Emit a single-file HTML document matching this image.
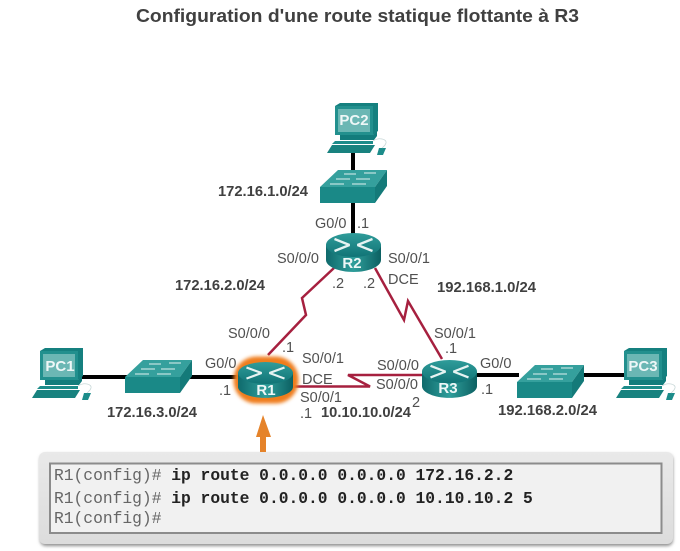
<!DOCTYPE html>
<html><head><meta charset="utf-8">
<style>
html,body{margin:0;padding:0;background:#fff}
svg{display:block}
text{font-family:"Liberation Sans",sans-serif;fill:#505050;font-size:14.5px}
.b{font-weight:bold;fill:#404040;font-size:14.5px}
.w{font-weight:bold;fill:#eef7f7;font-size:15px;text-anchor:middle}
.m{font-family:"Liberation Mono",monospace;font-size:16.3px;fill:#666}
.mb{font-weight:bold;fill:#222}
</style></head>
<body>
<svg width="680" height="551" viewBox="0 0 680 551" xmlns="http://www.w3.org/2000/svg">
<defs>
<linearGradient id="side" x1="0" x2="1" y1="0" y2="0">
<stop offset="0" stop-color="#0f6a6c"/><stop offset=".5" stop-color="#2f9e9b"/><stop offset="1" stop-color="#0c6062"/>
</linearGradient>
<linearGradient id="top" x1="0" x2="0" y1="0" y2="1">
<stop offset="0" stop-color="#2f9c9a"/><stop offset="1" stop-color="#117476"/>
</linearGradient>
<linearGradient id="cli" x1="0" x2="0" y1="0" y2="1">
<stop offset="0" stop-color="#e9e9e9"/><stop offset="1" stop-color="#dcdcdc"/>
</linearGradient>
<filter id="gl" x="-30%" y="-30%" width="160%" height="160%"><feGaussianBlur stdDeviation="1.800"/></filter>
<filter id="sh" x="-5%" y="-10%" width="110%" height="125%"><feGaussianBlur stdDeviation="1.500"/></filter>
<g id="router">
<path d="M-27.500 12V27C-27.500 33.500-15 39 0 39S27.500 33.500 27.500 27V12Z" fill="url(#side)"/>
<ellipse cx="0" cy="12" rx="27.500" ry="12" fill="url(#top)"/>
<path d="M-19 6L-4 12L-19 18M19 6L4 12L19 18" stroke="#e6f3f2" stroke-width="2.300" fill="none" stroke-linejoin="bevel"/>
</g>
<g id="switch">
<path d="M0 17L18 0H67L55 17Z" fill="#35a09d"/>
<path d="M55 17L67 0V16L55 33Z" fill="#147a79"/>
<rect x="0" y="17" width="55" height="16" fill="#1a8987"/>
<path d="M24 4H36M44 3H56M16 9H30M36 9H50M10 14H24M32 14H46" stroke="#dff1ef" stroke-width="1" fill="none"/>
</g>
<g id="pc">
<path d="M0 3L5 0H43V28L38 32H0Z" fill="#15807f"/>
<rect x="0" y="3" width="38" height="29" fill="#22908e"/>
<rect x="3" y="6" width="32" height="23" fill="#6bb7b4"/>
<path d="M5 32H38L42 28V33L39 37H5Z" fill="#127c7c"/>
<path d="M0 38H38V41H-3Z" fill="#1c8c8a"/>
<path d="M-3 42H40L35 50H-8Z" fill="#18827f"/>
<path d="M44 45L51 45 48 52H42Z" fill="#1c8c8a"/>
<path d="M38 38C44 34 52 36 51 40C50 43 48 44 47 45" stroke="#c8d8d8" stroke-width=".8" fill="none"/>
</g>
</defs>

<rect width="680" height="551" fill="#fff"/>
<text x="136" y="22" class="b" style="font-size:18px" textLength="443" lengthAdjust="spacingAndGlyphs">Configuration d'une route statique flottante à R3</text>

<!-- ethernet links -->
<path d="M353 150V172M353 203V235M80 377H127M190 377H240M475 375H519M582 375H625" stroke="#000" stroke-width="4" fill="none"/>
<!-- serial links -->
<g stroke="#a6203f" stroke-width="2.500" fill="none">
<path d="M268 355L306 315 302 298 334 268"/>
<path d="M375 268L404 320 408 301 442 359"/>
<path d="M293 386.500H370L348 375H424"/>
</g>

<!-- switches -->
<use href="#switch" x="320" y="170"/>
<use href="#switch" x="125" y="360"/>
<use href="#switch" x="517" y="365"/>

<!-- PCs -->
<use href="#pc" x="335" y="103"/>
<use href="#pc" x="40" y="348"/>
<use href="#pc" x="624" y="348"/>
<text x="354" y="125" class="w">PC2</text>
<text x="60" y="371" class="w">PC1</text>
<text x="643" y="371" class="w">PC3</text>

<!-- routers -->
<rect x="233.500" y="356.500" width="65" height="47" rx="23" fill="#ef7d1c" filter="url(#gl)"/>
<use href="#router" transform="translate(353.500,233)"/>
<use href="#router" transform="translate(265.500,362) scale(1,.92)"/>
<use href="#router" transform="translate(449.500,360) scale(1,.97)"/>
<text x="352" y="268" class="w">R2</text>
<text x="266" y="395" class="w">R1</text>
<text x="448" y="393" class="w">R3</text>

<!-- interface labels -->
<text x="315" y="228">G0/0</text><text x="357" y="228">.1</text>
<text x="277" y="263">S0/0/0</text><text x="388" y="263">S0/0/1</text>
<text x="388" y="284">DCE</text>
<text x="332" y="288">.2</text><text x="363" y="288">.2</text>
<text x="228" y="338">S0/0/0</text><text x="282" y="352">.1</text>
<text x="302" y="363">S0/0/1</text><text x="302" y="384">DCE</text>
<text x="300" y="402">S0/0/1</text><text x="300" y="418">.1</text>
<text x="205" y="368">G0/0</text><text x="219" y="395">.1</text>
<text x="377" y="370">S0/0/0</text><text x="376" y="389">S0/0/0</text>
<text x="412" y="407">2</text>
<text x="434" y="338">S0/0/1</text><text x="445" y="353">.1</text>
<text x="480" y="368">G0/0</text><text x="481" y="394">.1</text>

<!-- networks -->
<text x="218" y="196" class="b" textLength="90" lengthAdjust="spacingAndGlyphs">172.16.1.0/24</text>
<text x="175" y="290" class="b" textLength="90" lengthAdjust="spacingAndGlyphs">172.16.2.0/24</text>
<text x="437" y="292" class="b" textLength="99" lengthAdjust="spacingAndGlyphs">192.168.1.0/24</text>
<text x="107" y="417" class="b" textLength="90" lengthAdjust="spacingAndGlyphs">172.16.3.0/24</text>
<text x="321" y="417" class="b" textLength="90" lengthAdjust="spacingAndGlyphs">10.10.10.0/24</text>
<text x="498" y="415" class="b" textLength="99" lengthAdjust="spacingAndGlyphs">192.168.2.0/24</text>

<!-- CLI box -->
<rect x="40" y="454" width="633" height="92" rx="6" fill="#8f8f8f" filter="url(#sh)"/>
<rect x="39" y="452" width="634" height="92" rx="6" fill="url(#cli)"/>
<rect x="50" y="463.500" width="611.500" height="69.500" fill="#f1f1f1" stroke="#8c8c8c" stroke-width="2"/>

<!-- orange arrow -->
<path d="M263 415L271 437H266V452H260V437H256Z" fill="#e5832a"/>

<text x="54" y="480" class="m">R1(config)# <tspan class="mb">ip route 0.0.0.0 0.0.0.0 172.16.2.2</tspan></text>
<text x="54" y="503" class="m">R1(config)# <tspan class="mb">ip route 0.0.0.0 0.0.0.0 10.10.10.2 5</tspan></text>
<text x="54" y="523" class="m">R1(config)#</text>
</svg>
</body></html>
